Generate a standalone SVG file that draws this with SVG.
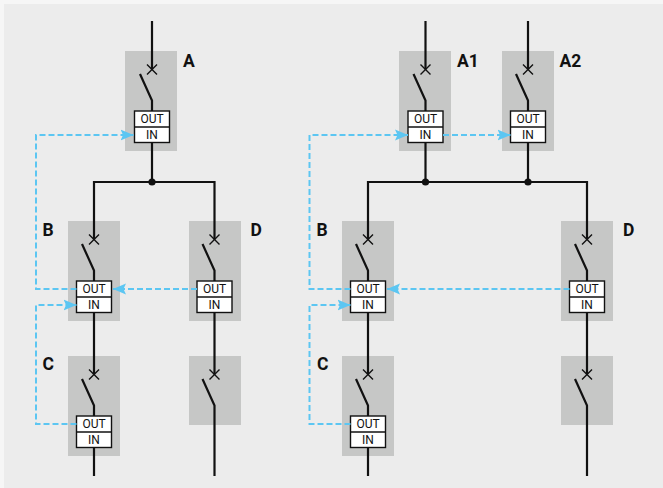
<svg xmlns="http://www.w3.org/2000/svg" width="663" height="488" viewBox="0 0 663 488">
<defs>
<style>
.bg{fill:#f6f6f6}
.panel{fill:#ececec}
.unit{fill:#c6c7c6}
.w{stroke:#111;stroke-width:2.2;fill:none;stroke-linecap:butt}
.x{stroke:#111;stroke-width:1.4;fill:none}
.div{stroke:#111;stroke-width:1.4}
.box{fill:#fff;stroke:#111;stroke-width:1.4}
.bt{font-family:Roboto,"Liberation Sans",sans-serif;font-size:12px;fill:#111;text-anchor:middle}
.lbl{font-family:Roboto,"Liberation Sans",sans-serif;font-size:17.5px;font-weight:bold;fill:#111}
.dash{stroke:#5cc6f2;stroke-width:2;stroke-dasharray:6,3;fill:none}
.arr{marker-end:url(#ah)}
</style>
<marker id="ah" markerUnits="userSpaceOnUse" markerWidth="14" markerHeight="12" viewBox="0 0 14 12" refX="13" refY="6" orient="auto">
<path d="M0,0.5 L13,6 L0,11.5 L2.5,6 z" fill="#5cc6f2"/>
</marker>
</defs>
<rect class="bg" x="0" y="0" width="663" height="488"/>
<rect class="panel" x="4" y="4" width="659" height="484"/>

<g id="node-A">
<rect class="unit" x="125" y="51" width="52" height="100"/>
<path class="x" d="M147,64.5 L157,74.5 M157,64.5 L147,74.5"/>
<path class="w" d="M140,74 L152,100.5 V111"/>
<rect class="box" x="134.5" y="111" width="35" height="31.5"/><line class="div" x1="134.5" y1="127" x2="169.5" y2="127"/>
<text class="bt" x="152" y="123.2">OUT</text><text class="bt" x="152" y="139">IN</text>
<text class="lbl" x="183" y="66.5">A</text>
</g>
<g id="node-B-left">
<rect class="unit" x="68" y="221" width="52" height="100"/>
<path class="x" d="M89,234.5 L99,244.5 M99,234.5 L89,244.5"/>
<path class="w" d="M82,244 L94,270.5 V281"/>
<rect class="box" x="76.5" y="281" width="35" height="31.5"/><line class="div" x1="76.5" y1="297" x2="111.5" y2="297"/>
<text class="bt" x="94" y="293.2">OUT</text><text class="bt" x="94" y="309">IN</text>
<text class="lbl" x="42.5" y="236">B</text>
</g>
<g id="node-D-left">
<rect class="unit" x="189" y="221" width="52" height="100"/>
<path class="x" d="M209.5,234.5 L219.5,244.5 M219.5,234.5 L209.5,244.5"/>
<path class="w" d="M202.5,244 L214.5,270.5 V281"/>
<rect class="box" x="197" y="281" width="35" height="31.5"/><line class="div" x1="197" y1="297" x2="232" y2="297"/>
<text class="bt" x="214.5" y="293.2">OUT</text><text class="bt" x="214.5" y="309">IN</text>
<text class="lbl" x="250.5" y="236">D</text>
</g>
<g id="node-C-left">
<rect class="unit" x="68" y="356" width="52" height="100"/>
<path class="x" d="M89,369.5 L99,379.5 M99,369.5 L89,379.5"/>
<path class="w" d="M82,379 L94,405.5 V416"/>
<rect class="box" x="76.5" y="416" width="35" height="31.5"/><line class="div" x1="76.5" y1="432" x2="111.5" y2="432"/>
<text class="bt" x="94" y="428.2">OUT</text><text class="bt" x="94" y="444">IN</text>
<text class="lbl" x="42.5" y="369.5">C</text>
</g>
<g id="node-D2-left">
<rect class="unit" x="189" y="356" width="52" height="69"/>
<path class="x" d="M209.5,369.5 L219.5,379.5 M219.5,369.5 L209.5,379.5"/>
<path class="w" d="M202.5,379 L214.5,405.5 V425"/>
</g>

<g id="node-A1">
<rect class="unit" x="399" y="51" width="52" height="100"/>
<path class="x" d="M420.5,64.5 L430.5,74.5 M430.5,64.5 L420.5,74.5"/>
<path class="w" d="M413.5,74 L425.5,100.5 V111"/>
<rect class="box" x="408" y="111" width="35" height="31.5"/><line class="div" x1="408" y1="127" x2="443" y2="127"/>
<text class="bt" x="425.5" y="123.2">OUT</text><text class="bt" x="425.5" y="139">IN</text>
<text class="lbl" x="457" y="66.5">A1</text>
</g>
<g id="node-A2">
<rect class="unit" x="502" y="51" width="52" height="100"/>
<path class="x" d="M523,64.5 L533,74.5 M533,64.5 L523,74.5"/>
<path class="w" d="M516,74 L528,100.5 V111"/>
<rect class="box" x="510.5" y="111" width="35" height="31.5"/><line class="div" x1="510.5" y1="127" x2="545.5" y2="127"/>
<text class="bt" x="528" y="123.2">OUT</text><text class="bt" x="528" y="139">IN</text>
<text class="lbl" x="559.5" y="66.5">A2</text>
</g>
<g id="node-B-right">
<rect class="unit" x="342" y="221" width="52" height="100"/>
<path class="x" d="M363,234.5 L373,244.5 M373,234.5 L363,244.5"/>
<path class="w" d="M356,244 L368,270.5 V281"/>
<rect class="box" x="350.5" y="281" width="35" height="31.5"/><line class="div" x1="350.5" y1="297" x2="385.5" y2="297"/>
<text class="bt" x="368" y="293.2">OUT</text><text class="bt" x="368" y="309">IN</text>
<text class="lbl" x="316.5" y="236">B</text>
</g>
<g id="node-D-right">
<rect class="unit" x="561" y="221" width="52" height="100"/>
<path class="x" d="M582,234.5 L592,244.5 M592,234.5 L582,244.5"/>
<path class="w" d="M575,244 L587,270.5 V281"/>
<rect class="box" x="569.5" y="281" width="35" height="31.5"/><line class="div" x1="569.5" y1="297" x2="604.5" y2="297"/>
<text class="bt" x="587" y="293.2">OUT</text><text class="bt" x="587" y="309">IN</text>
<text class="lbl" x="623" y="236">D</text>
</g>
<g id="node-C-right">
<rect class="unit" x="342" y="356" width="52" height="100"/>
<path class="x" d="M363,369.5 L373,379.5 M373,369.5 L363,379.5"/>
<path class="w" d="M356,379 L368,405.5 V416"/>
<rect class="box" x="350.5" y="416" width="35" height="31.5"/><line class="div" x1="350.5" y1="432" x2="385.5" y2="432"/>
<text class="bt" x="368" y="428.2">OUT</text><text class="bt" x="368" y="444">IN</text>
<text class="lbl" x="317" y="369.5">C</text>
</g>
<g id="node-D2-right">
<rect class="unit" x="561" y="356" width="52" height="69"/>
<path class="x" d="M582,369.5 L592,379.5 M592,369.5 L582,379.5"/>
<path class="w" d="M575,379 L587,405.5 V425"/>
</g>

<g id="connectors">
<path class="w" d="M152,21 V69.5 M152,142.5 V182 M94,239.5 V182 H214.5 V239.5 M94,312.5 V374.5 M94,447.5 V476 M214.5,312.5 V374.5 M214.5,425 V476"/>
<circle cx="152" cy="182" r="3.6" fill="#111"/>
<path class="w" d="M425.5,21 V69.5 M528,21 V69.5 M425.5,142.5 V182 M528,142.5 V182 M368,239.5 V182 H587 V239.5 M368,312.5 V374.5 M368,447.5 V476 M587,312.5 V374.5 M587,425 V476"/>
<circle cx="425.5" cy="182" r="3.6" fill="#111"/>
<circle cx="528" cy="182" r="3.6" fill="#111"/>
<path class="dash arr" d="M76.5,289 H36 V135 H133.5"/>
<path class="dash arr" d="M197,289 H113"/>
<path class="dash arr" d="M76.5,424 H36 V305 H76.5"/>
<path class="dash arr" d="M350.5,289 H309.5 V135 H408"/>
<path class="dash arr" d="M443,135 H510.5"/>
<path class="dash arr" d="M569.5,289 H387"/>
<path class="dash arr" d="M350.5,424 H309.5 V305 H350.5"/>
</g>
</svg>
